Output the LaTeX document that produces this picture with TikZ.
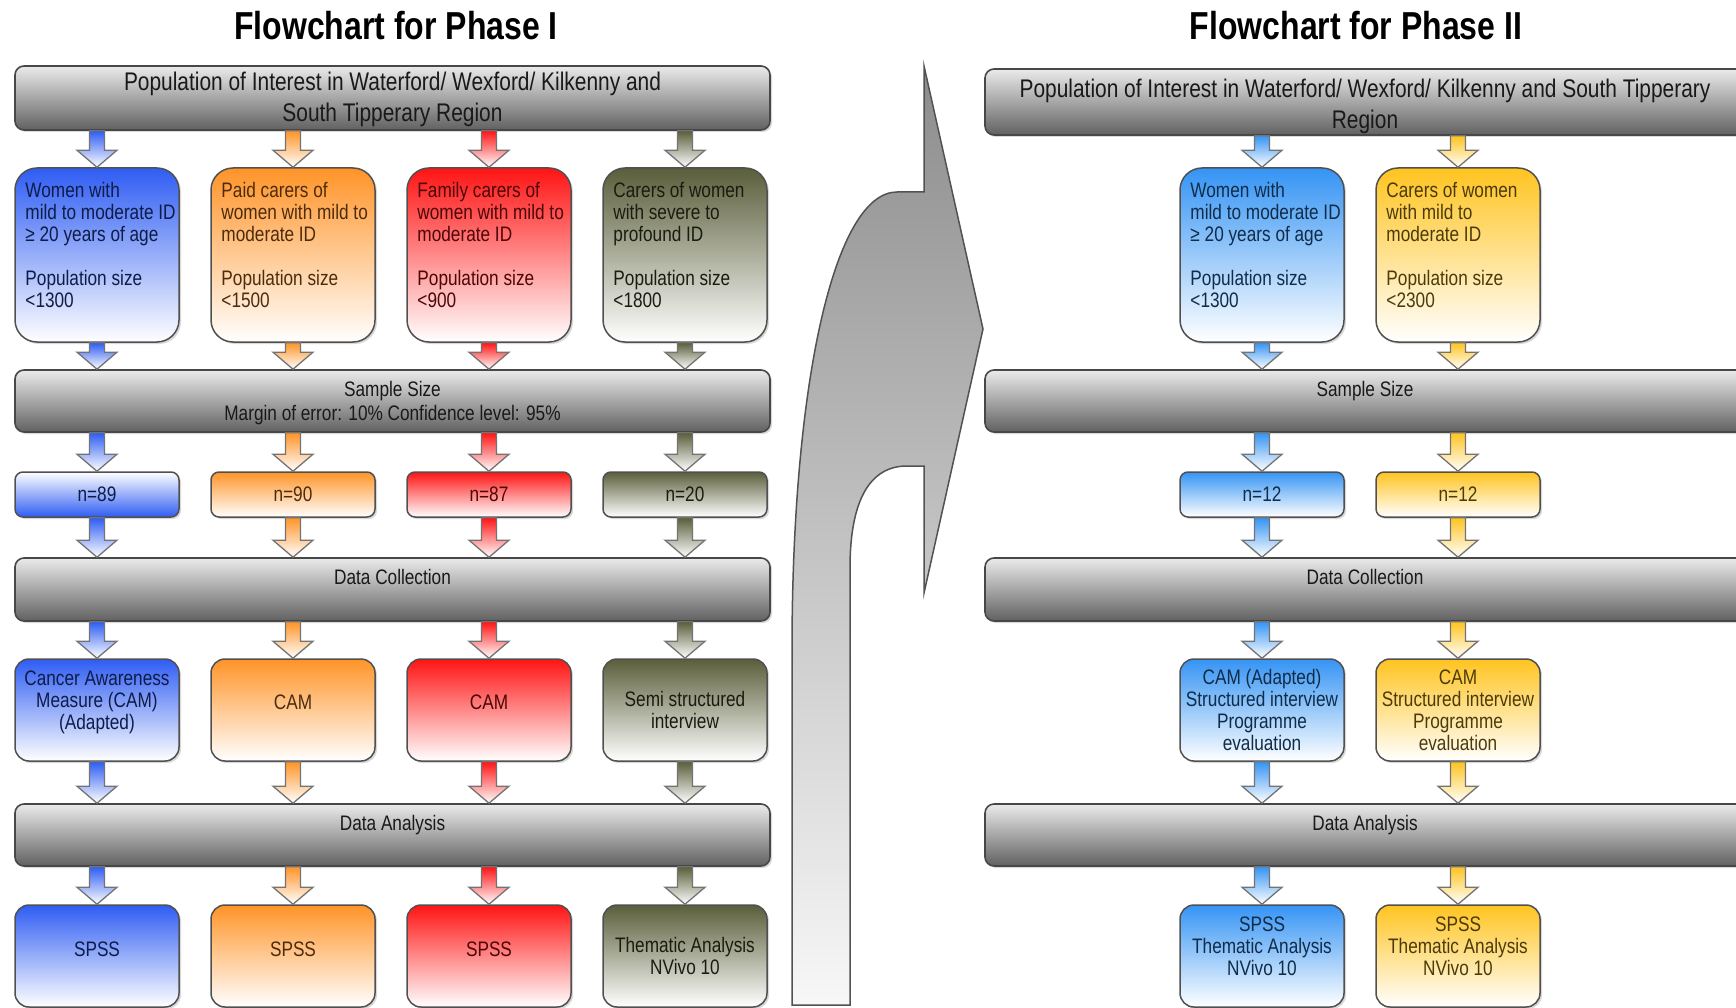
\documentclass[tikz,border=0pt]{standalone}
\usepackage{fontspec}
\setmainfont{Liberation Sans}[FakeStretch=0.82]
\usetikzlibrary{calc,shadows}

\definecolor{cblue}{HTML}{2F5DF3}
\definecolor{corange}{HTML}{FF9428}
\definecolor{cred}{HTML}{FF1414}
\definecolor{colive}{HTML}{5A5E3A}
\definecolor{csky}{HTML}{3594F4}
\definecolor{cgold}{HTML}{FFC420}
\definecolor{rim}{HTML}{505050}

% block arrow from #1 down to #2, shaft coloured #3
\newcommand{\flowarrow}[3]{%
  \path[draw=black!55,line width=1.3pt,top color=#3,bottom color=white]
    let \p1=(#1), \p2=(#2) in
    (\x1-7.5pt,\y1) -- (\x1+7.5pt,\y1) -- (\x1+7.5pt,\y2+17pt) -- (\x1+20pt,\y2+17pt) --
    (\x1,\y2) -- (\x1-20pt,\y2+17pt) -- (\x1-7.5pt,\y2+17pt) -- cycle;}

\begin{document}
\begin{tikzpicture}[x=1pt,y=-1pt,
	title/.style={font=\fontsize{39pt}{44pt}\selectfont\bfseries},
	bar/.style={draw=black!72,line width=1.6pt,rounded corners=9pt,minimum height=#1,
		top color=black!8,middle color=black!22,bottom color=black!62,
		drop shadow={opacity=0.3,shadow xshift=2pt,shadow yshift=-2pt}},
	bartext/.style={anchor=north,align=center,inner sep=0pt,yshift=-12pt,text=black!90,
		font=\fontsize{21pt}{24pt}\selectfont},
	box/.style={draw=rim,line width=1.5pt,rounded corners=#1,minimum width=164pt,inner sep=2pt,
		align=center,font=\fontsize{21pt}{22pt}\selectfont,
		drop shadow={opacity=0.3,shadow xshift=2pt,shadow yshift=-2pt}},
	grp/.style={box=22pt,minimum height=174pt,top color=#1,bottom color=white},
	grptext/.style={anchor=north west,align=left,inner sep=0pt,xshift=11pt,yshift=-14.5pt,
		text=#1!30!black,font=\fontsize{21pt}{22pt}\selectfont},
	nbox/.style={box=8pt,minimum height=45pt,top color=#1,bottom color=white,text=#1!30!black},
	tool/.style={box=14pt,minimum height=102pt,top color=#1,bottom color=white,text=#1!30!black},
	soft/.style={box=14pt,minimum height=102pt,top color=#1,bottom color=white,text=#1!30!black}]
	\useasboundingbox (0,0) rectangle (1736,1008);
	\clip (0,0) rectangle (1736,1008);
	
	\node[title] (title1) at (396,26) {Flowchart for Phase I};
	\node[title] (title2) at (1356,26) {Flowchart for Phase II};
	
	% phase I
	\node[bar=64pt,minimum width=755pt,label={[bartext,font=\fontsize{25.5pt}{31pt}\selectfont,yshift=5pt]north:{Population of Interest in Waterford/ Wexford/ Kilkenny and\\South Tipperary Region}}] (popI) at (392.5,98) {};
	\node[bar=62pt,minimum width=755pt,label={[bartext]north:{Sample Size\\Margin of error: 10\% Confidence level: 95\%}}] (sizeI) at (392.5,401) {};
	\node[bar=63pt,minimum width=755pt,label={[bartext]north:Data Collection}] (collI) at (392.5,589.5) {};
	\node[bar=62pt,minimum width=755pt,label={[bartext]north:Data Analysis}] (anaI) at (392.5,835) {};
	
	\node[grp=cblue,label={[grptext=cblue]north west:{Women with\\mild to moderate ID\\≥ 20 years of age\\[22pt]Population size\\<1300}}] (grp1) at (97,255) {};
	\node[grp=corange,label={[grptext=corange]north west:{Paid carers of\\women with mild to\\moderate ID\\[22pt]Population size\\<1500}}] (grp2) at (293,255) {};
	\node[grp=cred,label={[grptext=cred]north west:{Family carers of\\women with mild to\\moderate ID\\[22pt]Population size\\<900}}] (grp3) at (489,255) {};
	\node[grp=colive,label={[grptext=colive]north west:{Carers of women\\with severe to\\profound ID\\[22pt]Population size\\<1800}}] (grp4) at (685,255) {};
	
	\node[nbox=cblue,top color=white,bottom color=cblue] (n1) at (97,494.5) {n=89};
	\node[nbox=corange] (n2) at (293,494.5) {n=90};
	\node[nbox=cred] (n3) at (489,494.5) {n=87};
	\node[nbox=colive] (n4) at (685,494.5) {n=20};
	
	\node[tool=cblue,text depth=20pt] (tool1) at (97,710) {Cancer Awareness\\Measure (CAM)\\(Adapted)};
	\node[tool=corange,text depth=15.5pt] (tool2) at (293,710) {CAM};
	\node[tool=cred,text depth=15.5pt] (tool3) at (489,710) {CAM};
	\node[tool=colive] (tool4) at (685,710) {Semi structured\\interview};
	
	\node[soft=cblue,text depth=13pt] (soft1) at (97,956) {SPSS};
	\node[soft=corange,text depth=13pt] (soft2) at (293,956) {SPSS};
	\node[soft=cred,text depth=13pt] (soft3) at (489,956) {SPSS};
	\node[soft=colive] (soft4) at (685,956) {Thematic Analysis\\NVivo 10};
	
	% phase II
	\node[bar=66pt,minimum width=760pt,label={[bartext,font=\fontsize{25.5pt}{31pt}\selectfont,yshift=1pt]north:{Population of Interest in Waterford/ Wexford/ Kilkenny and South Tipperary\\Region}}] (popII) at (1365,102) {};
	\node[bar=62pt,minimum width=760pt,label={[bartext]north:Sample Size}] (sizeII) at (1365,401) {};
	\node[bar=63pt,minimum width=760pt,label={[bartext]north:Data Collection}] (collII) at (1365,589.5) {};
	\node[bar=62pt,minimum width=760pt,label={[bartext]north:Data Analysis}] (anaII) at (1365,835) {};
	
	\node[grp=csky,label={[grptext=csky]north west:{Women with\\mild to moderate ID\\≥ 20 years of age\\[22pt]Population size\\<1300}}] (grp5) at (1262,255) {};
	\node[grp=cgold,label={[grptext=cgold]north west:{Carers of women\\with mild to\\moderate ID\\[22pt]Population size\\<2300}}] (grp6) at (1458,255) {};
	
	\node[nbox=csky] (n5) at (1262,494.5) {n=12};
	\node[nbox=cgold] (n6) at (1458,494.5) {n=12};
	
	\node[tool=csky] (tool5) at (1262,710) {CAM (Adapted)\\Structured interview\\Programme\\evaluation};
	\node[tool=cgold] (tool6) at (1458,710) {CAM\\Structured interview\\Programme\\evaluation};
	
	\node[soft=csky,text depth=20pt] (soft5) at (1262,956) {SPSS\\Thematic Analysis\\NVivo 10};
	\node[soft=cgold,text depth=20pt] (soft6) at (1458,956) {SPSS\\Thematic Analysis\\NVivo 10};
	
	% big arrow from phase I to phase II
	\draw[draw=black!68,line width=1.5pt,top color=black!45,bottom color=black!3]
		(792,1005) -- (792,650) .. controls (792,380) and (835,192) .. (897,192) -- (924,192)
		-- (924,66) -- (983,329) -- (924,593) -- (924,466) -- (907,466)
		.. controls (870,466) and (850,500) .. (850,568) -- (850,1005) -- cycle;
	
	% arrows phase I
	\flowarrow{grp1.north |- popI.south}{grp1.north}{cblue}
	\flowarrow{grp1.south}{grp1.south |- sizeI.north}{cblue}
	\flowarrow{n1.north |- sizeI.south}{n1.north}{cblue}
	\flowarrow{n1.south}{n1.south |- collI.north}{cblue}
	\flowarrow{tool1.north |- collI.south}{tool1.north}{cblue}
	\flowarrow{tool1.south}{tool1.south |- anaI.north}{cblue}
	\flowarrow{soft1.north |- anaI.south}{soft1.north}{cblue}
	
	\flowarrow{grp2.north |- popI.south}{grp2.north}{corange}
	\flowarrow{grp2.south}{grp2.south |- sizeI.north}{corange}
	\flowarrow{n2.north |- sizeI.south}{n2.north}{corange}
	\flowarrow{n2.south}{n2.south |- collI.north}{corange}
	\flowarrow{tool2.north |- collI.south}{tool2.north}{corange}
	\flowarrow{tool2.south}{tool2.south |- anaI.north}{corange}
	\flowarrow{soft2.north |- anaI.south}{soft2.north}{corange}
	
	\flowarrow{grp3.north |- popI.south}{grp3.north}{cred}
	\flowarrow{grp3.south}{grp3.south |- sizeI.north}{cred}
	\flowarrow{n3.north |- sizeI.south}{n3.north}{cred}
	\flowarrow{n3.south}{n3.south |- collI.north}{cred}
	\flowarrow{tool3.north |- collI.south}{tool3.north}{cred}
	\flowarrow{tool3.south}{tool3.south |- anaI.north}{cred}
	\flowarrow{soft3.north |- anaI.south}{soft3.north}{cred}
	
	\flowarrow{grp4.north |- popI.south}{grp4.north}{colive}
	\flowarrow{grp4.south}{grp4.south |- sizeI.north}{colive}
	\flowarrow{n4.north |- sizeI.south}{n4.north}{colive}
	\flowarrow{n4.south}{n4.south |- collI.north}{colive}
	\flowarrow{tool4.north |- collI.south}{tool4.north}{colive}
	\flowarrow{tool4.south}{tool4.south |- anaI.north}{colive}
	\flowarrow{soft4.north |- anaI.south}{soft4.north}{colive}
	
	% arrows phase II
	\flowarrow{grp5.north |- popII.south}{grp5.north}{csky}
	\flowarrow{grp5.south}{grp5.south |- sizeII.north}{csky}
	\flowarrow{n5.north |- sizeII.south}{n5.north}{csky}
	\flowarrow{n5.south}{n5.south |- collII.north}{csky}
	\flowarrow{tool5.north |- collII.south}{tool5.north}{csky}
	\flowarrow{tool5.south}{tool5.south |- anaII.north}{csky}
	\flowarrow{soft5.north |- anaII.south}{soft5.north}{csky}
	
	\flowarrow{grp6.north |- popII.south}{grp6.north}{cgold}
	\flowarrow{grp6.south}{grp6.south |- sizeII.north}{cgold}
	\flowarrow{n6.north |- sizeII.south}{n6.north}{cgold}
	\flowarrow{n6.south}{n6.south |- collII.north}{cgold}
	\flowarrow{tool6.north |- collII.south}{tool6.north}{cgold}
	\flowarrow{tool6.south}{tool6.south |- anaII.north}{cgold}
	\flowarrow{soft6.north |- anaII.south}{soft6.north}{cgold}
\end{tikzpicture}
\end{document}
